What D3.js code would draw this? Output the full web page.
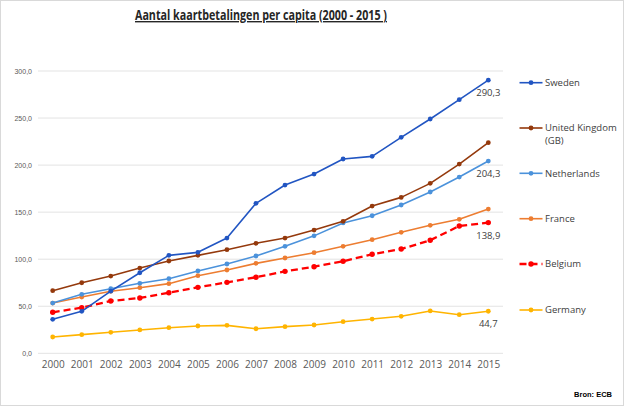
<!DOCTYPE html>
<html><head><meta charset="utf-8">
<script src="https://cdn.jsdelivr.net/npm/d3@7"></script>
<style>body{margin:0;background:#fff}svg{display:block}</style>
</head><body><svg id="c" width="625" height="407"></svg>
<script>
const years = [2000,2001,2002,2003,2004,2005,2006,2007,2008,2009,2010,2011,2012,2013,2014,2015];
const sweden  = [36.1,44.6,66,85.6,104.1,107.3,122.5,159.4,178.8,190.5,206.5,209.3,229.5,249,269.5,290.3];
const uk      = [66.5,75,82.1,90.6,98.1,104.1,110.1,116.9,122.5,131,140.3,156.5,165.7,180.6,201.1,223.8];
const netherl = [53.4,62.7,68.6,74.4,79.3,87.5,94.9,103.4,113.7,124.8,138.5,146.2,157.6,171.4,187.3,204.3];
const france  = [53.4,59.8,65.9,69.7,74,82.5,88.5,95.6,101.3,106.9,113.7,120.7,128.6,136,142.4,153.3];
const belgium = [43.6,48.5,55.6,58.8,64.4,70.1,75.4,80.8,87.1,92,97.8,105.2,110.8,120.1,135.3,138.9];
const germany = [17.3,19.8,22.3,24.8,27.2,29,29.7,26.1,28.3,30.1,33.6,36.4,39.3,45,41,44.7];
const yTicks = [0,50,100,150,200,250,300];
const seriesNames = ["Sweden","United Kingdom (GB)","Netherlands","France","Belgium","Germany"];
const seriesValues = [sweden, uk, netherl, france, belgium, germany];
const seriesColors = ["#2155c2","#94390c","#4b92db","#ed7d31","#ff0000","#ffb400"];
const seriesDash = [null,null,null,null,"7,4",null];
const endLabels = [[0,"290,3"],[2,"204,3"],[4,"138,9"],[5,"44,7"]];

const svg = d3.select("#c");
svg.append("rect").attr("x",0.5).attr("y",0.5).attr("width",623).attr("height",405)
  .attr("fill","#fff").attr("stroke","#d9d9d9");

const x = d3.scaleLinear().domain([2000,2015]).range([52.7,488.3]);
const y = d3.scaleLinear().domain([0,300]).range([353.3,71]);
const fmt = v => d3.format(".1f")(v).replace(".",",");

svg.append("g").selectAll("line").data(yTicks).join("line")
  .attr("x1",38).attr("x2",503).attr("y1",d=>y(d)).attr("y2",d=>y(d))
  .attr("stroke","#e3e3e3").attr("stroke-width",1);

const yAxis = d3.axisLeft(y).tickValues(yTicks).tickFormat(fmt).tickSize(0).tickPadding(0);
const gy = svg.append("g").attr("transform","translate(32,0)").call(yAxis);
gy.select(".domain").remove();
gy.selectAll("text").attr("fill","#595959").style("font-family","'Liberation Sans',Arial,sans-serif").style("font-size","7px");

const xAxis = d3.axisBottom(x).tickValues(years).tickFormat(d3.format("d")).tickSize(0).tickPadding(0);
const gx = svg.append("g").attr("transform","translate(0,361)").call(xAxis);
gx.select(".domain").remove();
gx.selectAll("text").attr("fill","#595959").style("font-family","'Open Sans',sans-serif").style("font-size","10px");

const line = d3.line().x((d,i)=>x(years[i])).y(d=>y(d));
for (let s = seriesValues.length-1; s>=0; s--) {
  const g = svg.append("g");
  g.append("path").datum(seriesValues[s]).attr("d",line).attr("fill","none")
    .attr("stroke",seriesColors[s]).attr("stroke-width", s===4?2.3:1.6)
    .attr("stroke-dasharray",seriesDash[s]).attr("stroke-linejoin","round");
  g.selectAll("circle").data(seriesValues[s]).join("circle")
    .attr("cx",(d,i)=>x(years[i])).attr("cy",d=>y(d)).attr("r", s===4?2.7:2.4)
    .attr("fill",seriesColors[s]);
}

svg.append("g").selectAll("text").data(endLabels).join("text")
  .attr("x",x(2015)).attr("y",d=>y(seriesValues[d[0]][15])+16)
  .attr("text-anchor","middle").attr("fill","#404040")
  .style("font-family","'Open Sans',sans-serif").style("font-size","9.5px")
  .text(d=>d[1]);

const legY = [82.7,128,173.3,218.7,264,310];
const leg = svg.append("g");
seriesNames.forEach((n,i)=>{
  leg.append("line").attr("x1",519.5).attr("x2",542.5).attr("y1",legY[i]).attr("y2",legY[i])
    .attr("stroke",seriesColors[i]).attr("stroke-width", i===4?2.3:1.6).attr("stroke-dasharray",seriesDash[i]);
  leg.append("circle").attr("cx",531).attr("cy",legY[i]).attr("r", i===4?2.7:2.4).attr("fill",seriesColors[i]);
  const t = leg.append("text").attr("x",545).attr("y",legY[i]+3.3).attr("fill","#404040")
    .style("font-family","'Open Sans',sans-serif").style("font-size","9.5px");
  if (i===1) {
    t.append("tspan").attr("x",545).text("United Kingdom");
    t.append("tspan").attr("x",545).attr("dy",12.7).text("(GB)");
  } else t.text(n);
});

svg.append("text").attr("x",261).attr("y",20).attr("text-anchor","middle")
  .attr("fill","#262626").attr("text-decoration","underline")
  .attr("textLength",252).attr("lengthAdjust","spacingAndGlyphs")
  .style("font-family","'Liberation Sans Narrow','Open Sans',sans-serif").style("font-weight","bold").style("font-size","14px")
  .text("Aantal kaartbetalingen per capita (2000 - 2015 )");

svg.append("text").attr("x",612).attr("y",397).attr("text-anchor","end").attr("fill","#000")
  .style("font-family","'Liberation Sans Narrow',sans-serif").style("font-weight","bold").style("font-size","7.5px")
  .text("Bron: ECB");
</script></body></html>
